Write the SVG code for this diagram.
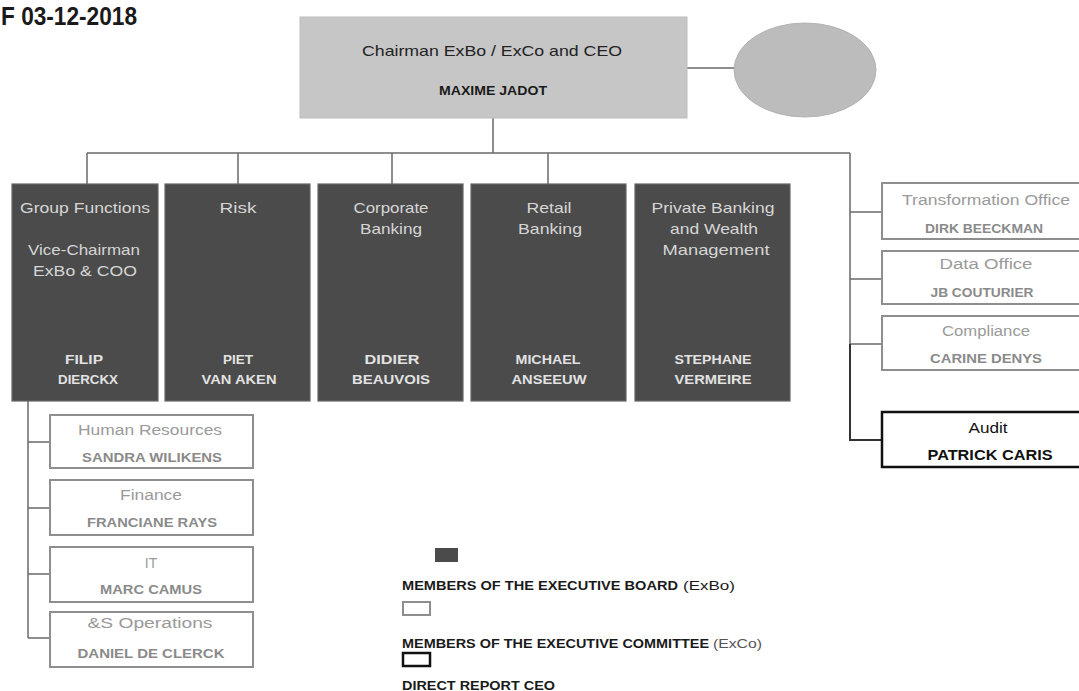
<svg xmlns="http://www.w3.org/2000/svg" width="1079" height="691" viewBox="0 0 1079 691">
<style>
text{font-family:"Liberation Sans",Arial,sans-serif;text-anchor:middle}
.dk rect{fill:#4b4b4b;stroke:#656565;stroke-width:1.2}
.dt{fill:#d6d6d6;font-size:15px}
.dn{fill:#e2e2e2;font-size:13.5px;font-weight:bold}
.lb{fill:#fff;stroke:#8e8e8e;stroke-width:2}
.lt{fill:#9a9a9a;font-size:14px}
.ln{fill:#8a8a8a;font-size:13px;font-weight:bold}
.cn{fill:none;stroke:#6a6a6a;stroke-width:1.5}
.lg{fill:#1a1a1a;font-size:13px;font-weight:bold;text-anchor:start}
</style>
<rect width="1079" height="691" fill="#fff"/>
<text x="1" y="25" font-size="25" font-weight="bold" fill="#1a1a1a" style="text-anchor:start" textLength="136" lengthAdjust="spacingAndGlyphs">F 03-12-2018</text>

<g id="connectors">
<path class="cn" d="M687 68H735M493 118V153M87 153H850M87 153V184M238 153V184M392 153V184M548 153V184M850 153V344M850 212H882M850 279H882M850 344H882"/>
<path fill="none" stroke="#333" stroke-width="2" d="M850 344V440H882"/>
<path class="cn" d="M28 401V638M28 442H50M28 508H50M28 574H50M28 638H50"/>
</g>

<g id="ceo">
<rect x="300" y="17" width="387" height="101" fill="#c6c6c6" stroke="#bdbdbd"/>
<text x="492" y="56" font-size="15" fill="#222" textLength="260" lengthAdjust="spacingAndGlyphs">Chairman ExBo / ExCo and CEO</text>
<text x="493" y="95" font-size="12.5" font-weight="bold" fill="#1a1a1a" textLength="108" lengthAdjust="spacingAndGlyphs">MAXIME JADOT</text>
</g>
<g id="ellipse-node">
<ellipse cx="805" cy="70" rx="71" ry="47" fill="#bcbcbc" stroke="#b2b2b2"/>
</g>

<g id="group-functions" class="dk">
<rect x="12" y="184" width="146" height="217"/>
<text class="dt" x="85" y="213" textLength="130" lengthAdjust="spacingAndGlyphs">Group Functions</text>
<text class="dt" x="84" y="255" textLength="112" lengthAdjust="spacingAndGlyphs">Vice-Chairman</text>
<text class="dt" x="85" y="276" textLength="104" lengthAdjust="spacingAndGlyphs">ExBo &amp; COO</text>
<text class="dn" x="84" y="364" textLength="38" lengthAdjust="spacingAndGlyphs">FILIP</text>
<text class="dn" x="88" y="384" textLength="60" lengthAdjust="spacingAndGlyphs">DIERCKX</text>
</g>
<g id="risk" class="dk">
<rect x="165" y="184" width="145" height="217"/>
<text class="dt" x="238" y="213" textLength="37" lengthAdjust="spacingAndGlyphs">Risk</text>
<text class="dn" x="238" y="364" textLength="30" lengthAdjust="spacingAndGlyphs">PIET</text>
<text class="dn" x="239" y="384" textLength="75" lengthAdjust="spacingAndGlyphs">VAN AKEN</text>
</g>
<g id="corporate-banking" class="dk">
<rect x="318" y="184" width="145" height="217"/>
<text class="dt" x="391" y="213" textLength="75" lengthAdjust="spacingAndGlyphs">Corporate</text>
<text class="dt" x="391" y="234" textLength="62" lengthAdjust="spacingAndGlyphs">Banking</text>
<text class="dn" x="392" y="364" textLength="55" lengthAdjust="spacingAndGlyphs">DIDIER</text>
<text class="dn" x="391" y="384" textLength="78" lengthAdjust="spacingAndGlyphs">BEAUVOIS</text>
</g>
<g id="retail-banking" class="dk">
<rect x="471" y="184" width="155" height="217"/>
<text class="dt" x="549" y="213" textLength="45" lengthAdjust="spacingAndGlyphs">Retail</text>
<text class="dt" x="550" y="234" textLength="64" lengthAdjust="spacingAndGlyphs">Banking</text>
<text class="dn" x="548" y="364" textLength="65" lengthAdjust="spacingAndGlyphs">MICHAEL</text>
<text class="dn" x="549" y="384" textLength="75" lengthAdjust="spacingAndGlyphs">ANSEEUW</text>
</g>
<g id="private-banking" class="dk">
<rect x="635" y="184" width="155" height="217"/>
<text class="dt" x="713" y="213" textLength="123" lengthAdjust="spacingAndGlyphs">Private Banking</text>
<text class="dt" x="714" y="234" textLength="88" lengthAdjust="spacingAndGlyphs">and Wealth</text>
<text class="dt" x="716" y="255" textLength="107" lengthAdjust="spacingAndGlyphs">Management</text>
<text class="dn" x="713" y="364" textLength="77" lengthAdjust="spacingAndGlyphs">STEPHANE</text>
<text class="dn" x="713" y="384" textLength="77" lengthAdjust="spacingAndGlyphs">VERMEIRE</text>
</g>

<g id="transformation-office">
<rect class="lb" x="882" y="183" width="210" height="56"/>
<text class="lt" x="986" y="205" textLength="168" lengthAdjust="spacingAndGlyphs">Transformation Office</text>
<text class="ln" x="984" y="233" textLength="118" lengthAdjust="spacingAndGlyphs">DIRK BEECKMAN</text>
</g>
<g id="data-office">
<rect class="lb" x="882" y="251" width="210" height="53"/>
<text class="lt" x="986" y="269" textLength="93" lengthAdjust="spacingAndGlyphs">Data Office</text>
<text class="ln" x="982" y="297" textLength="103" lengthAdjust="spacingAndGlyphs">JB COUTURIER</text>
</g>
<g id="compliance">
<rect class="lb" x="882" y="316" width="210" height="54"/>
<text class="lt" x="986" y="336" textLength="88" lengthAdjust="spacingAndGlyphs">Compliance</text>
<text class="ln" x="986" y="363" textLength="112" lengthAdjust="spacingAndGlyphs">CARINE DENYS</text>
</g>
<g id="audit">
<rect x="882" y="412" width="210" height="55" fill="#fff" stroke="#111" stroke-width="2.5"/>
<text x="988" y="433" font-size="14" fill="#111" textLength="39" lengthAdjust="spacingAndGlyphs">Audit</text>
<text x="990" y="460" font-size="14" font-weight="bold" fill="#111" textLength="125" lengthAdjust="spacingAndGlyphs">PATRICK CARIS</text>
</g>

<g id="human-resources">
<rect class="lb" x="50" y="415" width="203" height="53"/>
<text class="lt" x="150" y="435" textLength="144" lengthAdjust="spacingAndGlyphs">Human Resources</text>
<text class="ln" x="152" y="462" textLength="140" lengthAdjust="spacingAndGlyphs">SANDRA WILIKENS</text>
</g>
<g id="finance">
<rect class="lb" x="50" y="480" width="203" height="55"/>
<text class="lt" x="151" y="500" textLength="62" lengthAdjust="spacingAndGlyphs">Finance</text>
<text class="ln" x="152" y="527" textLength="130" lengthAdjust="spacingAndGlyphs">FRANCIANE RAYS</text>
</g>
<g id="it">
<rect class="lb" x="50" y="547" width="203" height="55"/>
<text class="lt" x="151" y="568">IT</text>
<text class="ln" x="151" y="594" textLength="102" lengthAdjust="spacingAndGlyphs">MARC CAMUS</text>
</g>
<g id="operations">
<rect class="lb" x="50" y="612" width="203" height="55"/>
<text class="lt" x="150" y="628" textLength="125" lengthAdjust="spacingAndGlyphs">&amp;S Operations</text>
<text class="ln" x="151" y="658" textLength="147" lengthAdjust="spacingAndGlyphs">DANIEL DE CLERCK</text>
</g>

<g id="legend">
<rect x="435" y="548" width="23" height="14" fill="#4b4b4b"/>
<text class="lg" x="402" y="590" textLength="276" lengthAdjust="spacingAndGlyphs">MEMBERS OF THE EXECUTIVE BOARD</text>
<text x="683" y="590" font-size="13" fill="#1a1a1a" style="text-anchor:start" textLength="52" lengthAdjust="spacingAndGlyphs">(ExBo)</text>
<rect x="403" y="602" width="27" height="13" fill="#fff" stroke="#8e8e8e" stroke-width="2"/>
<text class="lg" x="402" y="648" textLength="307" lengthAdjust="spacingAndGlyphs">MEMBERS OF THE EXECUTIVE COMMITTEE</text>
<text x="713" y="648" font-size="12" fill="#555" style="text-anchor:start" textLength="49" lengthAdjust="spacingAndGlyphs">(ExCo)</text>
<rect x="403" y="653" width="27" height="13" fill="#fff" stroke="#111" stroke-width="2.5"/>
<text class="lg" x="402" y="690" textLength="153" lengthAdjust="spacingAndGlyphs">DIRECT REPORT CEO</text>
</g>
</svg>
